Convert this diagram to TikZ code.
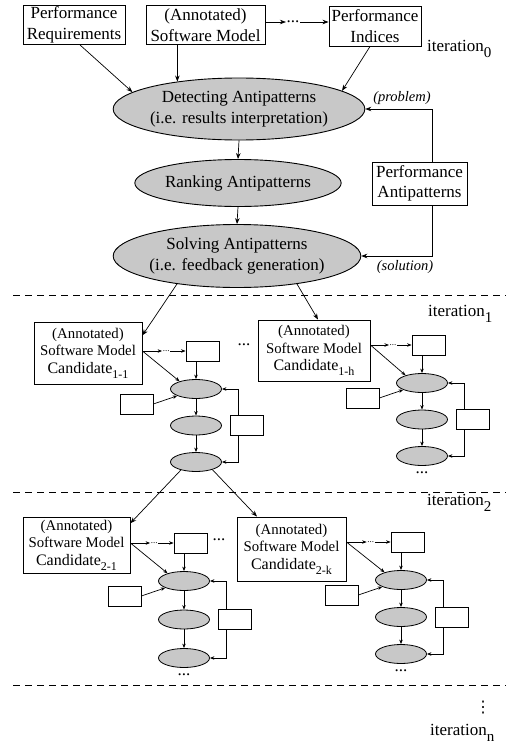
\documentclass[tikz,border=0pt]{standalone}
\usepackage{fontspec}
\setmainfont{Liberation Serif}
\newfontfamily\symfont{DejaVu Sans}
\usetikzlibrary{shapes.geometric,arrows.meta,calc}

\definecolor{stepfill}{RGB}{200,200,200}

\tikzset{
  base/.style={font=\fontsize{17}{20.5}\selectfont},
  pbox/.style={base,draw,line width=0.9pt,rectangle,inner sep=0pt,align=center},
  cbox/.style={draw,line width=0.9pt,rectangle,inner sep=0pt,align=center,
               font=\fontsize{14.8}{17.5}\selectfont},
  bigell/.style={base,draw,line width=0.9pt,ellipse,fill=stepfill,inner sep=0pt,align=center},
  mell/.style={draw,line width=0.8pt,ellipse,fill=stepfill,inner sep=0pt,
               minimum width=51pt,minimum height=19pt},
  mbox/.style={draw,line width=0.8pt,rectangle,inner sep=0pt,
               minimum width=33pt,minimum height=20pt},
  arr/.style={line width=0.7pt,-{Stealth[length=6pt,width=4.5pt]}},
  marr/.style={line width=0.7pt,-{Stealth[length=4.5pt,width=3.5pt]}},
  dotsn/.style={base,inner sep=0.5pt},
  tinydots/.style={font=\fontsize{9}{9}\selectfont,inner sep=0.5pt},
  lbl/.style={font=\fontsize{14.5}{16}\selectfont\itshape,inner sep=0pt},
  iter/.style={base,anchor=base west,inner sep=0pt},
  sep/.style={line width=0.8pt,dash pattern=on 7pt off 5pt}
}

% subscript of the iteration labels
\newcommand\itsub[1]{\raisebox{-6pt}{\fontsize{15}{15}\selectfont #1}}
% subscript of the candidate names
\newcommand\candsub[1]{\raisebox{-5pt}{\fontsize{12}{12}\selectfont #1}}

% a small copy of the detect/rank/solve loop
% #1 prefix, #2 x, #3 y of the first ellipse, #4 vertical step
\newcommand\miniflow[4]{%
  \node[mell] (#1e1) at (#2,#3) {};
  \node[mell] (#1e2) at (#2,#3+#4) {};
  \node[mell] (#1e3) at (#2,#3+2*#4) {};
  \node[mbox] (#1t) at (#2+6.5,#3-38) {};
  \node[mbox] (#1l) at (#2-59.5,#3+15) {};
  \node[mbox] (#1r) at (#2+50.5,#3+#4) {};
  \draw[marr] (#1t.south -| #1e1.north) -- (#1e1.north);
  \draw[marr] (#1l.east) -- (#1e1.200);
  \draw[marr] (#1e1) -- (#1e2);
  \draw[marr] (#1e2) -- (#1e3);
  \draw[marr] ([xshift=-8.5pt]#1r.north) |- (#1e1.east);
  \draw[marr] ([xshift=-8.5pt]#1r.south) |- (#1e3.east);
}
% dots under the last ellipse of a loop that is not expanded further
\newcommand\flowdots[1]{\node[dotsn] (#1d) at ([yshift=-7pt]#1e3.south) {...};}

\begin{document}
\begin{tikzpicture}[x=1pt,y=-1pt]
\useasboundingbox[fill=white] (0,0) rectangle (506,744);

% ---------------- iteration 0 ----------------
\node[pbox,minimum width=102pt,minimum height=39pt] (preq) at (74,25)
  {Performance\\Requirements};
\node[pbox,minimum width=119pt,minimum height=39pt] (sm) at (205.5,25)
  {(Annotated)\\Software Model};
\node[pbox,minimum width=92pt,minimum height=40pt] (pidx) at (375,26)
  {Performance\\Indices};
\node[dotsn] (topdots) at (293,22) {...};
\draw[arr] (sm.east |- topdots) -- (topdots);
\draw[arr] (topdots) -- (pidx.west |- topdots);

\node[iter] (it0) at (427,51) {iteration\itsub{0}};

\node[bigell,minimum width=210pt,minimum height=62pt] (det) at (239,109)
  {Detecting Antipatterns\\(i.e. results interpretation)};
\node[bigell,minimum width=178pt,minimum height=47pt] (rank) at (238,183)
  {Ranking Antipatterns};
\node[bigell,minimum width=209pt,minimum height=63pt] (solve) at (237,256)
  {Solving Antipatterns\\(i.e. feedback generation)};
\node[pbox,minimum width=95pt,minimum height=43pt] (pa) at (419.5,183.5)
  {Performance\\Antipatterns};

\draw[arr] ([xshift=6pt]preq.south) -- (det.171);
\draw[arr] (sm.south -| det.156) -- (det.156);
\draw[arr] ([xshift=-5pt]pidx.south) -- (det.10);
\draw[arr] (det.south) -- (rank.north);
\draw[arr] (rank.south) -- (solve.north);
\draw[arr] ([xshift=12.5pt]pa.north) |- (det.east);
\draw[arr] ([xshift=12.5pt]pa.south) |- (solve.east);
\node[lbl] (prob) at (402,98) {(problem)};
\node[lbl] (sol) at (405,267) {(solution)};

\draw[sep] (13,295) -- (506,295);

% ---------------- iteration 1 ----------------
\node[iter] (it1) at (428,316) {iteration\itsub{1}};

\node[cbox,minimum width=108pt,minimum height=62pt] (c11) at (88,353)
  {(Annotated)\\Software Model\\{\fontsize{16}{18}\selectfont Candidate\candsub{1-1}}};
\node[cbox,minimum width=112pt,minimum height=61pt] (c1h) at (314,350.5)
  {(Annotated)\\Software Model\\{\fontsize{16}{18}\selectfont Candidate\candsub{1-h}}};
\node[dotsn] (mid1) at (244,345) {...};

\draw[arr] (solve.205) -- (c11.18);
\draw[arr] (solve.-25) -- ([xshift=4pt]c1h.north);

\miniflow{a}{196}{389}{36.5}
\miniflow{b}{422}{383}{36.5}
\flowdots{b}

\node[tinydots] (ad) at ($(c11.east |- at.west)!0.55!(at.west)$) {...};
\draw[marr] (c11.east |- at.west) -- (ad);
\draw[marr] (ad) -- (at.west);
\draw[marr] (c11.east |- at.west) -- (ae1.155);

\node[tinydots] (bd) at ($(c1h.east |- bt.west)!0.55!(bt.west)$) {...};
\draw[marr] (c1h.east |- bt.west) -- (bd);
\draw[marr] (bd) -- (bt.west);
\draw[marr] (c1h.east |- bt.west) -- (be1.155);

\draw[sep] (13,492) -- (506,492);

% ---------------- iteration 2 ----------------
\node[iter] (it2) at (427,505) {iteration\itsub{2}};

\node[cbox,minimum width=107pt,minimum height=56pt] (c21) at (76.5,545)
  {(Annotated)\\Software Model\\{\fontsize{16}{18}\selectfont Candidate\candsub{2-1}}};
\node[cbox,minimum width=109pt,minimum height=64pt] (c2k) at (291.5,549)
  {(Annotated)\\Software Model\\{\fontsize{16}{18}\selectfont Candidate\candsub{2-k}}};
\node[dotsn] (mid2) at (219,540) {...};

\draw[arr] (ae3.208) -- (c21.22);
\draw[arr] (ae3.335) -- ([xshift=-34.5pt]c2k.north);

\miniflow{c}{184}{581}{38.5}
\miniflow{d}{401}{580}{37}
\flowdots{c}
\flowdots{d}

\node[tinydots] (cd) at ($(c21.east |- ct.west)!0.55!(ct.west)$) {...};
\draw[marr] (c21.east |- ct.west) -- (cd);
\draw[marr] (cd) -- (ct.west);
\draw[marr] (c21.east |- ct.west) -- (ce1.155);

\node[tinydots] (dd) at ($(c2k.east |- dt.west)!0.55!(dt.west)$) {...};
\draw[marr] (c2k.east |- dt.west) -- (dd);
\draw[marr] (dd) -- (dt.west);
\draw[marr] (c2k.east |- dt.west) -- (de1.155);

\draw[sep] (13,685) -- (506,685);

% ---------------- iteration n ----------------
\node[inner sep=0pt,font=\symfont\fontsize{16}{16}\selectfont] (vd) at (483,708) {⋮};
\node[iter] (itn) at (430,735) {iteration\itsub{n}};
\end{tikzpicture}
\end{document}
